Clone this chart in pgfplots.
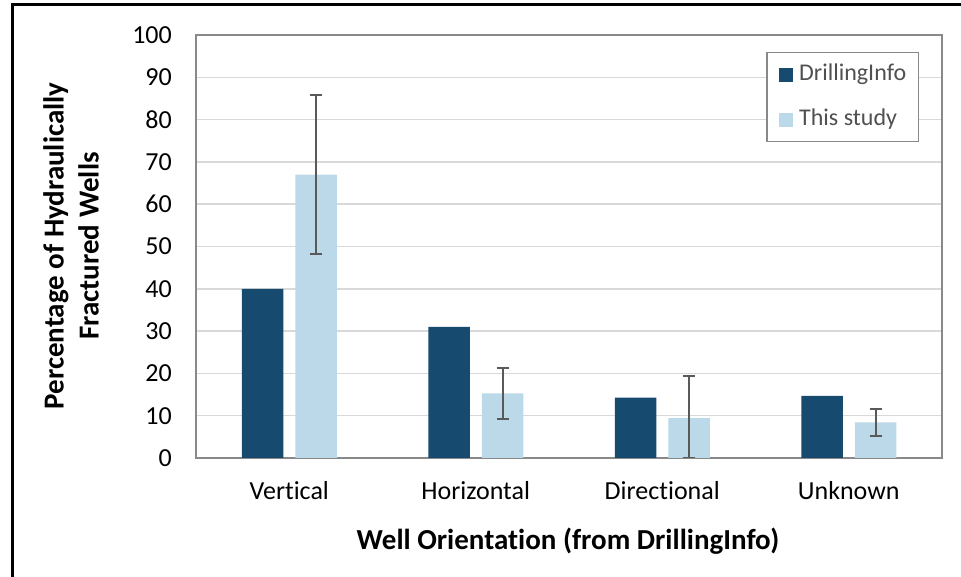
\documentclass[border=0pt]{standalone}
\usepackage{pgfplots}
\pgfplotsset{compat=1.18}
\usepackage{fontspec}
\setmainfont{Carlito}[Ligatures={NoCommon}]
\definecolor{darkbar}{RGB}{22,74,110}
\definecolor{lightbar}{RGB}{187,217,232}
\definecolor{axisgray}{RGB}{137,137,137}
\definecolor{gridgray}{RGB}{217,217,217}
\definecolor{errgray}{RGB}{89,89,89}
\definecolor{legtext}{RGB}{80,80,80}
\begin{document}
\begin{tikzpicture}
\useasboundingbox (0,0) rectangle (961pt,577pt);
\draw[line width=3pt] (12pt,0) -- (12pt,572pt) -- (961pt,572pt);
\begin{axis}[
  at={(196pt,119pt)}, anchor=south west,
  scale only axis, width=746pt, height=423pt,
  xmin=-0.5, xmax=3.5, ymin=0, ymax=100,
  xtick={0,1,2,3}, xticklabels={Vertical,Horizontal,Directional,Unknown},
  ytick={0,10,...,100},
  ymajorgrids, grid style={gridgray, line width=1.5pt},
  axis line style={axisgray, line width=1.8pt},
  major tick length=0pt,
  tick style={draw=none},
  /pgf/number format/assume math mode=true,
  ticklabel style={font=\fontsize{26}{30}\selectfont},
  yticklabel style={anchor=east, inner sep=0pt, xshift=-24pt},
  xticklabel style={anchor=base, inner sep=0pt, yshift=-42pt},
  ybar, bar width=41.5pt,
  legend style={at={(0.9692,0.9598)}, anchor=north east, draw=axisgray, line width=1.5pt,
    font=\fontsize{24}{28}\selectfont\color{legtext},
    nodes={inner sep=0pt, text height=17pt, text depth=5pt, anchor=west},
    row sep=23pt, inner xsep=12pt, inner ysep=11pt,
    /tikz/every odd column/.style={column sep=6pt}},
  legend cell align=left,
]
\addplot[fill=darkbar, draw=none, bar shift=-26.75pt,
  legend image code/.code={\fill[darkbar] (0pt,-7pt) rectangle (14pt,7pt);}]
  coordinates {(0,40) (1,31) (2,14.3) (3,14.7)};
\addlegendentry{DrillingInfo}
\addplot[fill=lightbar, draw=none, bar shift=26.75pt,
  legend image code/.code={\fill[lightbar] (0pt,-7pt) rectangle (14pt,7pt);},
  error bars/.cd, y dir=both, y explicit,
  error bar style={errgray, line width=2pt},
  error mark options={errgray, rotate=90, mark size=6pt, line width=2pt}]
  coordinates {(0,67) +- (0,18.8) (1,15.3) +- (0,6.0) (2,9.4) += (0,10.1) -= (0,9.4) (3,8.4) +- (0,3.3)};
\addlegendentry{This study}
\end{axis}
\node[rotate=90, align=center, font=\fontsize{29}{35}\selectfont\bfseries] at (71pt,331pt) {Percentage of Hydraulically\\Fractured Wells};
\node[font=\fontsize{29}{35}\selectfont\bfseries] at (568pt,36pt) {Well Orientation (from DrillingInfo)};
\end{tikzpicture}
\end{document}
